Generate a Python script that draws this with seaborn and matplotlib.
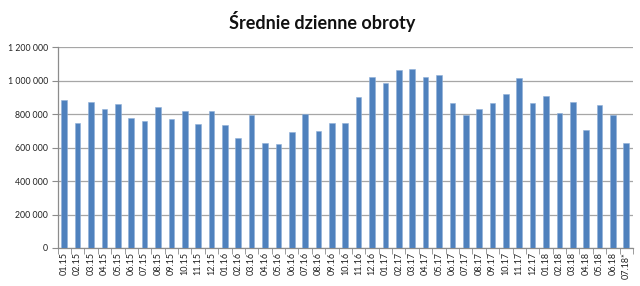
import matplotlib
matplotlib.use("Agg")
import matplotlib.pyplot as plt
import seaborn as sns
import pandas as pd
from matplotlib.ticker import FuncFormatter, FixedLocator

categories = ["01.15", "02.15", "03.15", "04.15", "05.15", "06.15", "07.15", "08.15", "09.15", "10.15", "11.15", "12.15",
              "01.16", "02.16", "03.16", "04.16", "05.16", "06.16", "07.16", "08.16", "09.16", "10.16", "11.16", "12.16",
              "01.17", "02.17", "03.17", "04.17", "05.17", "06.17", "07.17", "08.17", "09.17", "10.17", "11.17", "12.17",
              "01.18", "02.18", "03.18", "04.18", "05.18", "06.18", "07.18*"]
values = [884000, 748000, 874000, 828000, 860000, 774000, 760000, 840000, 768000, 820000, 740000, 820000,
          736000, 659000, 794000, 625000, 621000, 695000, 802000, 699000, 748000, 744000, 900000, 1023000,
          987000, 1065000, 1069000, 1023000, 1035000, 864000, 794000, 828000, 868000, 923000, 1017000, 864000,
          907000, 808000, 874000, 708000, 854000, 794000, 625000]
y_ticks = [0, 200000, 400000, 600000, 800000, 1000000, 1200000]
title = "Średnie dzienne obroty"

sns.set_style("white")
plt.rcParams['font.family'] = ['Lato', 'DejaVu Sans']

df = pd.DataFrame({"miesiac": categories, "obroty": values})

fig = plt.figure(figsize=(6.4, 2.86), dpi=100)
ax = fig.add_axes([0.090, 0.133, 0.899, 0.702])
sns.barplot(data=df, x="miesiac", y="obroty", color="#4F81BD", saturation=1,
            width=0.42, ax=ax, edgecolor="#8FB0D8", linewidth=0.4, zorder=3)

ax.set_ylim(0, 1200000)
ax.set_xlim(-0.5, len(categories) - 0.5)
ax.set_yticks(y_ticks)
ax.yaxis.set_major_formatter(FuncFormatter(lambda v, p: f"{int(v):,}".replace(",", " ")))
ax.grid(axis="y", color="#A6A6A6", linewidth=0.9, zorder=0)
ax.set_axisbelow(True)
ax.set_xlabel("")
ax.set_ylabel("")

for s in ["top", "right"]:
    ax.spines[s].set_visible(False)
for s in ["left", "bottom"]:
    ax.spines[s].set_color("#8C8C8C")
    ax.spines[s].set_linewidth(0.9)

ax.tick_params(axis="y", which="major", length=4, color="#8C8C8C", labelsize=6.3,
               labelcolor="#222222", pad=3, direction="out", left=True)
ax.tick_params(axis="x", which="major", length=0, labelsize=6.5, labelcolor="#222222",
               pad=3, rotation=90)
ax.xaxis.set_minor_locator(FixedLocator([i - 0.5 for i in range(len(categories) + 1)]))
ax.tick_params(axis="x", which="minor", length=4, color="#8C8C8C", direction="out", bottom=True)

fig.text(0.503, 0.925, title, ha="center", va="center", fontsize=13, fontweight="bold", color="#111111")

fig.savefig("out.png", dpi=100)
